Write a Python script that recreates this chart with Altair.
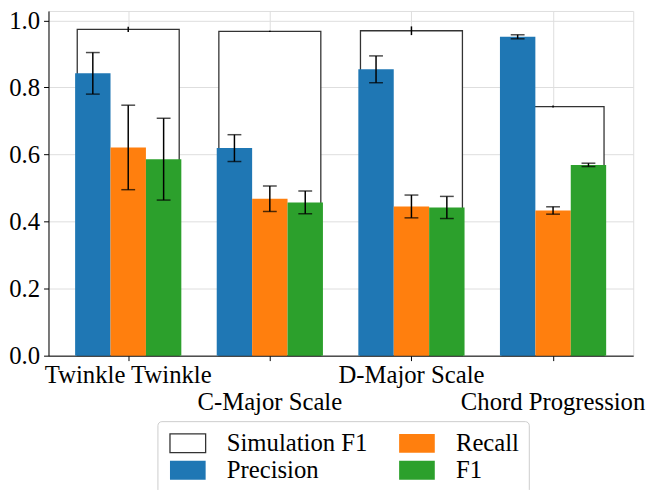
import altair as alt
import pandas as pd

categories = ["Twinkle Twinkle", "C-Major Scale", "D-Major Scale", "Chord Progression"]
precision = [0.842, 0.619, 0.854, 0.951]
precision_err = [0.062, 0.040, 0.040, 0.006]
recall = [0.621, 0.468, 0.445, 0.433]
recall_err = [0.126, 0.038, 0.034, 0.011]
f1 = [0.586, 0.457, 0.442, 0.569]
f1_err = [0.122, 0.034, 0.033, 0.005]
sim_f1 = [0.973, 0.967, 0.969, 0.743]
sim_f1_err = [0.008, 0.002, 0.013, 0.003]
y_ticks = [0.0, 0.2, 0.4, 0.6, 0.8, 1.0]

series_order = ["Simulation F1", "Precision", "Recall", "F1"]
fill_colors = ["white", "#1f77b4", "#ff7f0e", "#2ca02c"]
stroke_colors = ["#333333", "transparent", "transparent", "transparent"]

BAR_W = 0.25
SIM_W = 0.72
offsets = {"Precision": -BAR_W, "Recall": 0.0, "F1": BAR_W}

rows = []
for i, cat in enumerate(categories):
    for m, vals, errs in [("Precision", precision, precision_err),
                          ("Recall", recall, recall_err),
                          ("F1", f1, f1_err)]:
        c = i + offsets[m]
        rows.append(dict(category=cat, series=m, value=vals[i], err=errs[i],
                         xc=c, x0=c - BAR_W / 2, x1=c + BAR_W / 2,
                         lo=vals[i] - errs[i], hi=vals[i] + errs[i]))
bars = pd.DataFrame(rows)

sim = pd.DataFrame(dict(category=categories, series="Simulation F1",
                        xc=list(range(len(categories))), value=sim_f1, err=sim_f1_err))
sim["x0"] = sim["xc"] - SIM_W / 2
sim["x1"] = sim["xc"] + SIM_W / 2
sim["lo"] = sim["value"] - sim["err"]
sim["hi"] = sim["value"] + sim["err"]

labels = pd.DataFrame(dict(category=categories, xc=list(range(len(categories))),
                           row=[i % 2 for i in range(len(categories))]))

FONT = "Liberation Serif"
xscale = alt.Scale(domain=[-0.563, 3.566], nice=False, zero=False)
yscale = alt.Scale(domain=[0, 1.028], nice=False, zero=False)
xaxis = alt.Axis(values=[0, 1, 2, 3], labels=False, title=None, grid=True,
                 tickSize=5, tickColor="black", domainColor="black")
yaxis = alt.Axis(values=y_ticks, format=".1f", title=None, grid=True,
                 tickSize=5, tickColor="black", domainColor="black",
                 labelFont=FONT, labelFontSize=25, labelColor="black", labelPadding=4)


def X(f):
    return alt.X(f, type="quantitative", scale=xscale, axis=xaxis)


def Y(f):
    return alt.Y(f, type="quantitative", scale=yscale, axis=yaxis)


legend = alt.Legend(
    title=None, orient="none", legendX=110.3, legendY=415.3, columns=2,
    labelFont=FONT, labelFontSize=25, labelColor="black", labelLimit=400,
    symbolType="M-1,-1L2.8,-1L2.8,1L-1,1Z", symbolSize=361,
    symbolStrokeWidth=1.3, symbolOpacity=1,
    labelOffset=35.5, columnPadding=29, rowPadding=1.5, padding=9.7,
    strokeColor="#cccccc", fillColor="white", cornerRadius=4,
)
color_enc = alt.Color("series:N", scale=alt.Scale(domain=series_order, range=fill_colors), legend=legend)
stroke_enc = alt.Stroke("series:N", scale=alt.Scale(domain=series_order, range=stroke_colors), legend=legend)

sim_bars = alt.Chart(sim).mark_bar(strokeWidth=1.3, opacity=1).encode(
    x=X("x0"), x2="x1", y=Y("value"), y2=alt.datum(0),
    color=color_enc, stroke=stroke_enc,
)
sim_err = alt.Chart(sim).mark_rule(color="black", strokeWidth=1.5).encode(
    x=X("xc"), y=Y("lo"), y2="hi"
)
col_bars = alt.Chart(bars).mark_bar(strokeWidth=0, opacity=1).encode(
    x=X("x0"), x2="x1", y=Y("value"), y2=alt.datum(0),
    color=color_enc, stroke=stroke_enc,
)
err_rule = alt.Chart(bars).mark_rule(color="black", strokeWidth=1.5).encode(
    x=X("xc"), y=Y("lo"), y2="hi"
)
cap_lo = alt.Chart(bars).mark_tick(color="black", orient="horizontal", size=14, thickness=1.5).encode(
    x=X("xc"), y=Y("lo")
)
cap_hi = alt.Chart(bars).mark_tick(color="black", orient="horizontal", size=14, thickness=1.5).encode(
    x=X("xc"), y=Y("hi")
)
lab0 = alt.Chart(labels).transform_filter("datum.row == 0").mark_text(
    font=FONT, fontSize=25, color="black", align="center", baseline="alphabetic"
).encode(x=X("xc"), y=alt.value(377), text="category:N")
lab1 = alt.Chart(labels).transform_filter("datum.row == 1").mark_text(
    font=FONT, fontSize=25, color="black", align="center", baseline="alphabetic"
).encode(x=X("xc"), y=alt.value(404.5), text="category:N")

chart = alt.layer(sim_bars, sim_err, col_bars, err_rule, cap_lo, cap_hi, lab0, lab1).properties(
    width=592, height=349,
    autosize=alt.AutoSizeParams(type="none"),
    padding={"left": 41, "top": 0, "right": 17, "bottom": 133},
).configure_view(stroke="black", strokeWidth=1).configure_axis(
    gridColor="#c4c4c4", gridWidth=1, domainWidth=1, tickWidth=1
).configure(font=FONT)

chart.save("out.html", embed_options={"renderer": "svg", "actions": False})
